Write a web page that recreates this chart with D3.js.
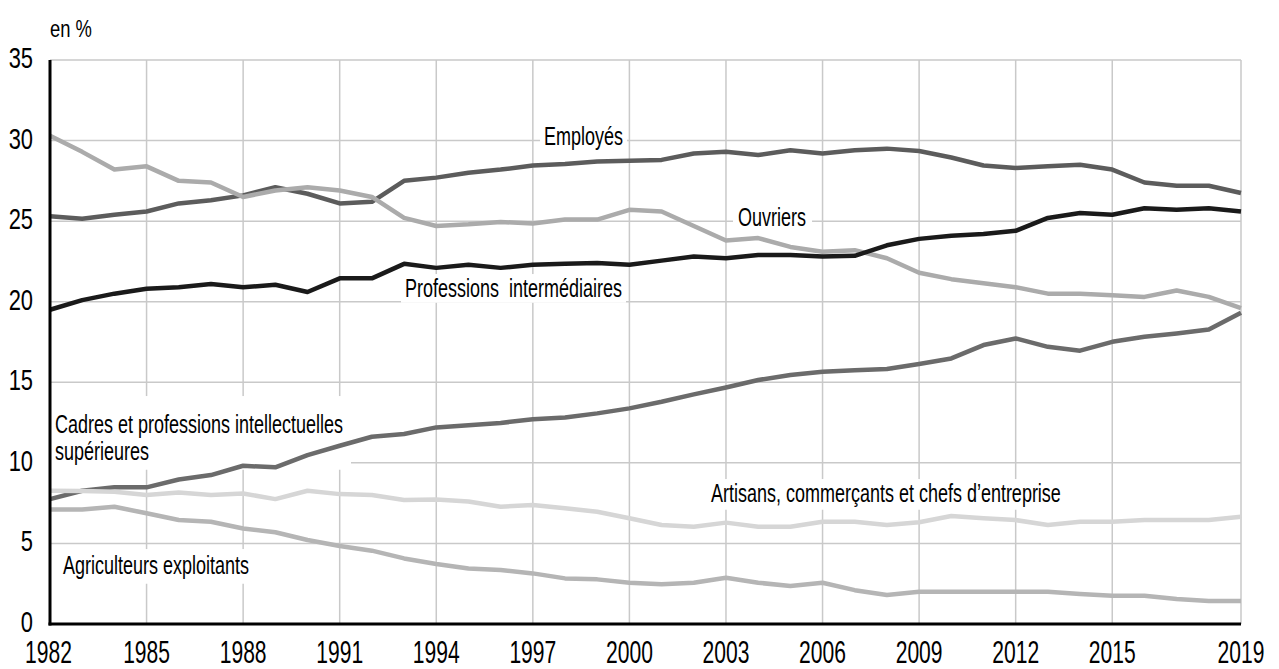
<!DOCTYPE html>
<html>
<head>
<meta charset="utf-8">
<script src="https://cdn.jsdelivr.net/npm/d3@7"></script>
<style>
  html, body { margin: 0; padding: 0; background: #fff; }
  svg { display: block; }
  text { font-family: "Liberation Sans", Arial, Helvetica, sans-serif; fill: #000; white-space: pre; }
</style>
</head>
<body>
<svg id="chart" width="1279" height="669"></svg>
<script>
// ---- Data ----
const years = [1982,1983,1984,1985,1986,1987,1988,1989,1990,1991,1992,1993,1994,1995,1996,1997,1998,1999,2000,2001,2002,2003,2004,2005,2006,2007,2008,2009,2010,2011,2012,2013,2014,2015,2016,2017,2018,2019];
const employes = [25.3,25.15,25.4,25.6,26.1,26.3,26.6,27.1,26.7,26.1,26.2,27.5,27.7,28.0,28.2,28.45,28.55,28.7,28.75,28.8,29.2,29.3,29.1,29.4,29.2,29.4,29.5,29.35,28.95,28.45,28.3,28.4,28.5,28.2,27.4,27.2,27.2,26.75];
const ouvriers = [30.3,29.3,28.2,28.4,27.5,27.4,26.5,26.9,27.1,26.9,26.5,25.2,24.7,24.8,24.95,24.85,25.1,25.1,25.7,25.6,24.7,23.8,23.95,23.4,23.1,23.2,22.7,21.8,21.4,21.15,20.9,20.5,20.5,20.4,20.3,20.7,20.3,19.6];
const professionsInter = [19.5,20.1,20.5,20.8,20.9,21.1,20.9,21.05,20.6,21.45,21.45,22.35,22.1,22.3,22.1,22.3,22.35,22.4,22.3,22.55,22.8,22.7,22.9,22.9,22.8,22.85,23.5,23.9,24.1,24.2,24.4,25.2,25.5,25.4,25.8,25.7,25.8,25.6];
const cadres = [7.75,8.27,8.48,8.48,8.97,9.24,9.82,9.72,10.48,11.06,11.62,11.79,12.2,12.34,12.48,12.7,12.82,13.07,13.38,13.79,14.25,14.68,15.14,15.45,15.65,15.75,15.82,16.13,16.48,17.31,17.72,17.2,16.96,17.51,17.82,18.03,18.28,19.31];
const artisans = [8.27,8.25,8.2,8.0,8.16,8.0,8.1,7.75,8.27,8.06,8.0,7.69,7.73,7.6,7.28,7.38,7.18,6.97,6.56,6.14,6.04,6.29,6.04,6.04,6.35,6.35,6.14,6.31,6.7,6.56,6.45,6.14,6.35,6.35,6.45,6.45,6.45,6.66];
const agriculteurs = [7.11,7.11,7.28,6.87,6.45,6.35,5.93,5.69,5.21,4.84,4.55,4.07,3.72,3.45,3.35,3.14,2.83,2.77,2.56,2.46,2.56,2.87,2.56,2.36,2.56,2.1,1.8,2.0,2.0,2.0,2.0,2.0,1.86,1.76,1.76,1.55,1.43,1.43];

const xTicks = [1982,1985,1988,1991,1994,1997,2000,2003,2006,2009,2012,2015,2019];
const yTicks = [0,5,10,15,20,25,30,35];
const yUnit = "en %";

const seriesNames = ["Employés","Ouvriers","Professions  intermédiaires","Cadres et professions intellectuelles|supérieures","Artisans, commerçants et chefs d’entreprise","Agriculteurs exploitants"];
const seriesValues = [employes, ouvriers, professionsInter, cadres, artisans, agriculteurs];

// ---- Styles / layout ----
const seriesColors = ["#5c5c5c","#ababab","#1a1a1a","#6b6b6b","#d6d6d6","#b5b5b5"];
const labelPos = [
  {x:544, y:145}, {x:738, y:226}, {x:405, y:297},
  {x:55, y:433}, {x:711, y:502}, {x:63, y:574}
];
const labelPad = [
  {l:4,r:4,t:4,b:6}, {l:5,r:6,t:4,b:6}, {l:4,r:4,t:4,b:4},
  {l:5,r:8,t:18,b:8}, {l:6,r:6,t:4,b:6}, {l:13,r:4,t:6,b:8}
];

const mLeft = 50, mRight = 1241, mTop = 60, mBottom = 624;

const svg = d3.select("#chart");
const x = d3.scaleLinear().domain([1982, 2019]).range([mLeft, mRight]);
const y = d3.scaleLinear().domain([0, 35]).range([mBottom, mTop]);

// gridlines
const grid = svg.append("g");
grid.selectAll("line.h").data(yTicks.filter(d => d > 0)).join("line")
  .attr("class", "h")
  .attr("x1", mLeft).attr("x2", mRight)
  .attr("y1", d => y(d)).attr("y2", d => y(d))
  .attr("stroke", "#c9c9c9").attr("stroke-width", 1.5);
grid.selectAll("line.v").data(xTicks.filter(d => d > 1982)).join("line")
  .attr("class", "v")
  .attr("x1", d => x(d)).attr("x2", d => x(d))
  .attr("y1", mTop).attr("y2", mBottom)
  .attr("stroke", "#c9c9c9").attr("stroke-width", 1.5);

// labels (boxes first)
const labelFS = 25, labelSX = 0.72;
const boxLayer = svg.append("g");
const lineLayer = svg.append("g");
const textLayer = svg.append("g");

seriesNames.forEach((name, i) => {
  const p = labelPos[i];
  const g = textLayer.append("g").attr("transform", `translate(${p.x},${p.y}) scale(${labelSX},1)`);
  const parts = name.split("|");
  const t = g.append("text").attr("font-size", labelFS);
  parts.forEach((s, j) => {
    t.append("tspan").attr("x", 0).attr("dy", j === 0 ? 0 : 27).text(s);
  });
  const bb = t.node().getBBox();
  const pad = labelPad[i];
  boxLayer.append("g").attr("transform", `translate(${p.x},${p.y}) scale(${labelSX},1)`)
    .append("rect")
    .attr("x", bb.x - pad.l / labelSX).attr("y", bb.y - pad.t + 4)
    .attr("width", bb.width + (pad.l + pad.r) / labelSX)
    .attr("height", bb.height + pad.t + pad.b - 8)
    .attr("fill", "#fff");
});

// lines
const line = d3.line().x((d, i) => x(years[i])).y(d => y(d)).curve(d3.curveLinear);
lineLayer.selectAll("path").data(seriesValues).join("path")
  .attr("d", d => line(d))
  .attr("fill", "none")
  .attr("stroke", (d, i) => seriesColors[i])
  .attr("stroke-width", 4.5)
  .attr("stroke-linejoin", "round");

// axes
svg.append("line").attr("x1", mLeft).attr("x2", mLeft).attr("y1", mTop).attr("y2", mBottom + 1.5)
  .attr("stroke", "#000").attr("stroke-width", 3);
svg.append("line").attr("x1", mLeft - 1.5).attr("x2", mRight).attr("y1", mBottom).attr("y2", mBottom)
  .attr("stroke", "#000").attr("stroke-width", 3);

// x tick labels
svg.append("g").selectAll("g").data(xTicks).join("g")
  .attr("transform", d => `translate(${x(d) - (d === 1982 ? 1.5 : 0)},663) scale(0.68,1)`)
  .append("text").attr("text-anchor", "middle").attr("font-size", 31).text(d => d);

// y tick labels
svg.append("g").selectAll("g").data(yTicks).join("g")
  .attr("transform", d => `translate(33,${y(d) + 8}) scale(0.73,1)`)
  .append("text").attr("text-anchor", "end").attr("font-size", 30).text(d => d);

// unit
svg.append("g").attr("transform", "translate(50,37) scale(0.8,1)")
  .append("text").attr("font-size", 23).text(yUnit);
</script>
</body>
</html>
